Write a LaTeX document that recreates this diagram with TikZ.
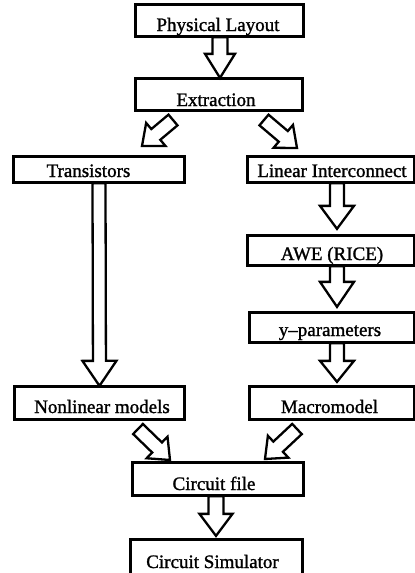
\documentclass[tikz,border=0pt]{standalone}
\usepackage{fontspec}
\setmainfont{Liberation Serif}
\newfontfamily\scanfont{Liberation Serif}[FakeBold=1.3]
\usetikzlibrary{calc}
\tikzset{
  box/.style={draw, line width=2.3pt, inner sep=0pt},
  lbl/.style={anchor=base, inner sep=0pt, font=\scanfont\fontsize{19}{20}\selectfont},
  blkline/.style={draw, line width=2.3pt, line join=miter, fill=white}
}
\newcommand{\blk}[5]{%
  \coordinate (bs) at (#1);
  \coordinate (bt) at (#2);
  \coordinate (bh) at ($(bt)!#5!(bs)$);
  \draw[blkline] ($(bs)!#3!90:(bt)$) -- ($(bh)!#3!90:(bt)$) -- ($(bh)!#4!90:(bt)$) -- (bt)
    -- ($(bh)!#4!-90:(bt)$) -- ($(bh)!#3!-90:(bt)$) -- ($(bs)!#3!-90:(bt)$) -- cycle;
}
\begin{document}
\begin{tikzpicture}[x=1pt,y=-1pt]
\useasboundingbox (0,0) rectangle (415,573);
\clip (0,0) rectangle (415,573);
% boxes
\node[box, minimum width=167pt, minimum height=31pt] (pl) at (219.5,20.5) {};
\node[box, minimum width=166pt, minimum height=31pt] (ex) at (219,94.5) {};
\node[box, minimum width=170pt, minimum height=25pt] (tr) at (99,169.5) {};
\node[box, minimum width=166pt, minimum height=25pt] (li) at (331,169.5) {};
\node[box, minimum width=166pt, minimum height=29pt] (awe) at (331,250.5) {};
\node[box, minimum width=164pt, minimum height=29pt] (yp) at (332,327.5) {};
\node[box, minimum width=169pt, minimum height=32pt] (nl) at (99.5,403) {};
\node[box, minimum width=164pt, minimum height=32pt] (mm) at (332,403) {};
\node[box, minimum width=170pt, minimum height=32pt] (cf) at (218,479) {};
\node[box, minimum width=171pt, minimum height=40pt] (cs) at (216.5,560) {};
% labels
\node[lbl] (tpl) at (218,31) {Physical Layout};
\node[lbl] (tex) at (216,106) {Extraction};
\node[lbl] (ttr) at (88.5,177) {Transistors};
\node[lbl] (tli) at (332,177) {Linear Interconnect};
\node[lbl] (tawe) at (332,260) {AWE (RICE)};
\node[lbl] (typ) at (330,336) {y–parameters};
\node[lbl] (tnl) at (102,413) {Nonlinear models};
\node[lbl] (tmm) at (329.5,413) {Macromodel};
\node[lbl] (tcf) at (214,490) {Circuit file};
\node[lbl] (tcs) at (212.5,568) {Circuit Simulator};
% free ends of diagonal arrows
\coordinate (d1s) at (173,120); \coordinate (d1t) at (142,146);
\coordinate (d2s) at (264,120); \coordinate (d2t) at (297,148);
\coordinate (d3s) at (138,429); \coordinate (d3t) at (170,460);
\coordinate (d4s) at (297,429); \coordinate (d4t) at (265,459);
% block arrows
\blk{$(pl.south)+(0.5,0)$}{$(ex.north)+(1,0)$}{7.5pt}{15pt}{24pt}
\blk{$(tr.south)+(0,0)$}{$(nl.north)+(0,0)$}{6.5pt}{17pt}{25pt}
\blk{$(li.south)+(6,0)$}{$(awe.north)+(6,-6)$}{7pt}{17pt}{23pt}
\blk{$(awe.south)+(6,0)$}{$(yp.north)+(5,-5)$}{7pt}{17pt}{25pt}
\blk{$(yp.south)+(5,0)$}{$(mm.north)+(5,-4)$}{7pt}{17pt}{21pt}
\blk{$(cf.south)+(-2,0)$}{$(cs.north)+(-0.5,-3)$}{7.5pt}{16.5pt}{22pt}
\blk{d1s}{d1t}{7pt}{15pt}{18pt}
\blk{d2s}{d2t}{7pt}{15pt}{18pt}
\blk{d3s}{d3t}{7pt}{15pt}{18pt}
\blk{d4s}{d4t}{7pt}{15pt}{18pt}
% redraw boxes on top
\foreach \n in {pl,ex,tr,li,awe,yp,nl,mm,cf,cs}
  \draw[line width=2.3pt] (\n.north west) rectangle (\n.south east);
\end{tikzpicture}
\end{document}
